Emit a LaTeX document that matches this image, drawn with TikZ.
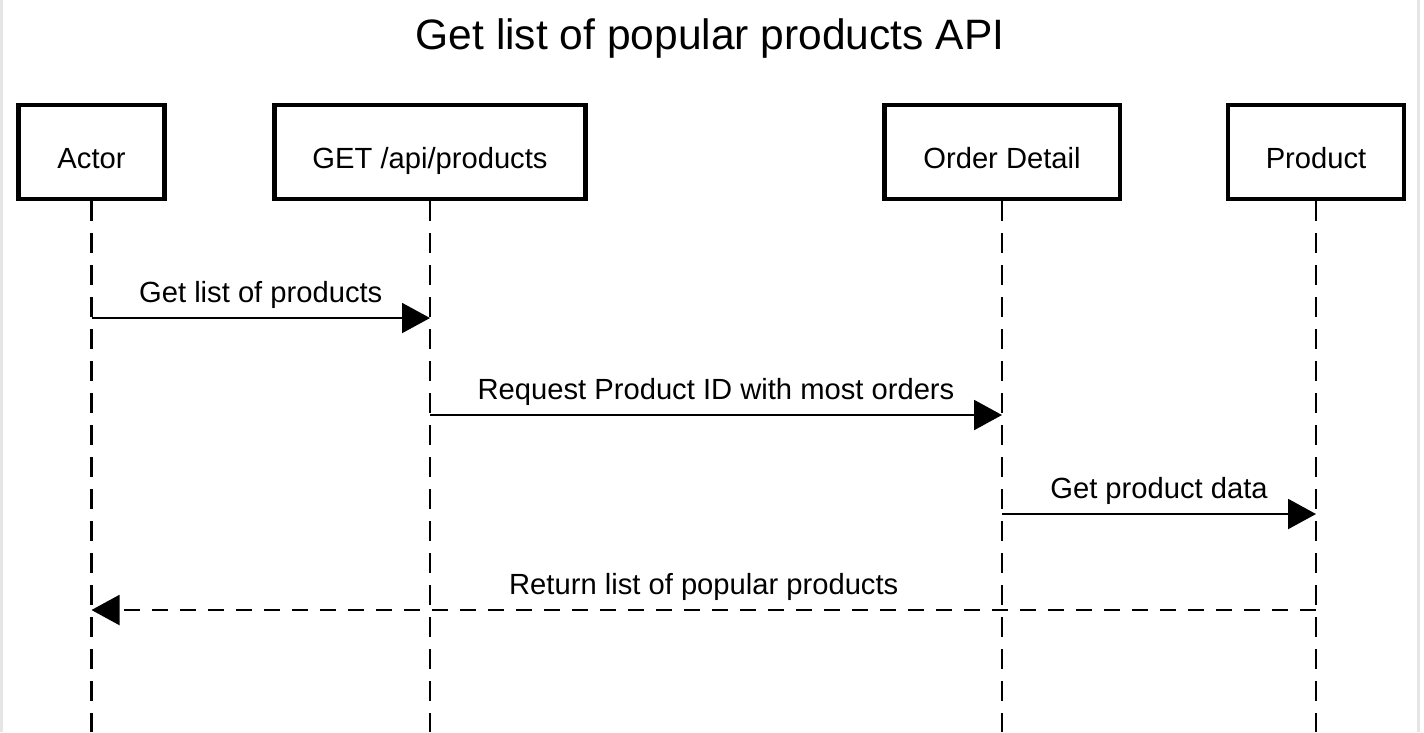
\documentclass[tikz,border=0pt]{standalone}
\usepackage{fontspec}
\setmainfont{Liberation Sans}
\usetikzlibrary{arrows.meta}

\begin{document}
\begin{tikzpicture}[
 >={Triangle[length=0.28cm,width=0.3cm]},
 font=\fontsize{8.3}{10}\selectfont,
 box/.style={draw=black,rectangle,line width=1.15pt,minimum height=0.94cm,inner sep=1mm,text height=1em,text depth=0.04em},
 life/.style={draw=black,line width=0.75pt,dash pattern=on 0.2cm off 0.12cm},
 msg/.style={draw=black,line width=0.6pt,->},
 reply/.style={msg,dash pattern=on 0.16cm off 0.12cm},
 lbl/.style={above,yshift=-0.3mm}
]
\useasboundingbox (0,0) rectangle (14.24,-7.32);
\draw [black!10,line width=0.6pt] (0.015,0) -- (0.015,-7.32) (14.185,0) -- (14.185,-7.32);
\node (title) at (7.1,-0.38) {\fontsize{12.1}{14}\selectfont Get list of popular products API};
\node (actor-box) [box,minimum width=1.46cm] at (0.915,-1.52) {Actor};
\node (api-box) [box,minimum width=3.11cm] at (4.3,-1.52) {GET /api/products};
\node (order-box) [box,minimum width=2.35cm] at (10.02,-1.52) {Order Detail};
\node (product-box) [box,minimum width=1.76cm] at (13.16,-1.52) {Product};
% lifelines
\coordinate (actor-end) at (actor-box.south |- 0,-7.32);
\coordinate (api-end) at (api-box.south |- 0,-7.32);
\coordinate (order-end) at (order-box.south |- 0,-7.32);
\coordinate (product-end) at (product-box.south |- 0,-7.32);
\draw [life] (actor-box.south) -- (actor-end);
\draw [life] (api-box.south) -- (api-end);
\draw [life] (order-box.south) -- (order-end);
\draw [life] (product-box.south) -- (product-end);
% messages
\coordinate (actor-m1) at (actor-box.south |- 0,-3.18);
\coordinate (api-m1) at (api-box.south |- 0,-3.18);
\coordinate (api-m2) at (api-box.south |- 0,-4.15);
\coordinate (order-m2) at (order-box.south |- 0,-4.15);
\coordinate (order-m3) at (order-box.south |- 0,-5.14);
\coordinate (product-m3) at (product-box.south |- 0,-5.14);
\coordinate (product-m4) at (product-box.south |- 0,-6.1);
\coordinate (actor-m4) at (actor-box.south |- 0,-6.1);
\draw [msg] (actor-m1) -- node [lbl] {Get list of products} (api-m1);
\draw [msg] (api-m2) -- node [lbl] {Request Product ID with most orders} (order-m2);
\draw [msg] (order-m3) -- node [lbl] {Get product data} (product-m3);
\draw [reply] (product-m4) -- node [lbl] {Return list of popular products} (actor-m4);
\end{tikzpicture}
\end{document}
